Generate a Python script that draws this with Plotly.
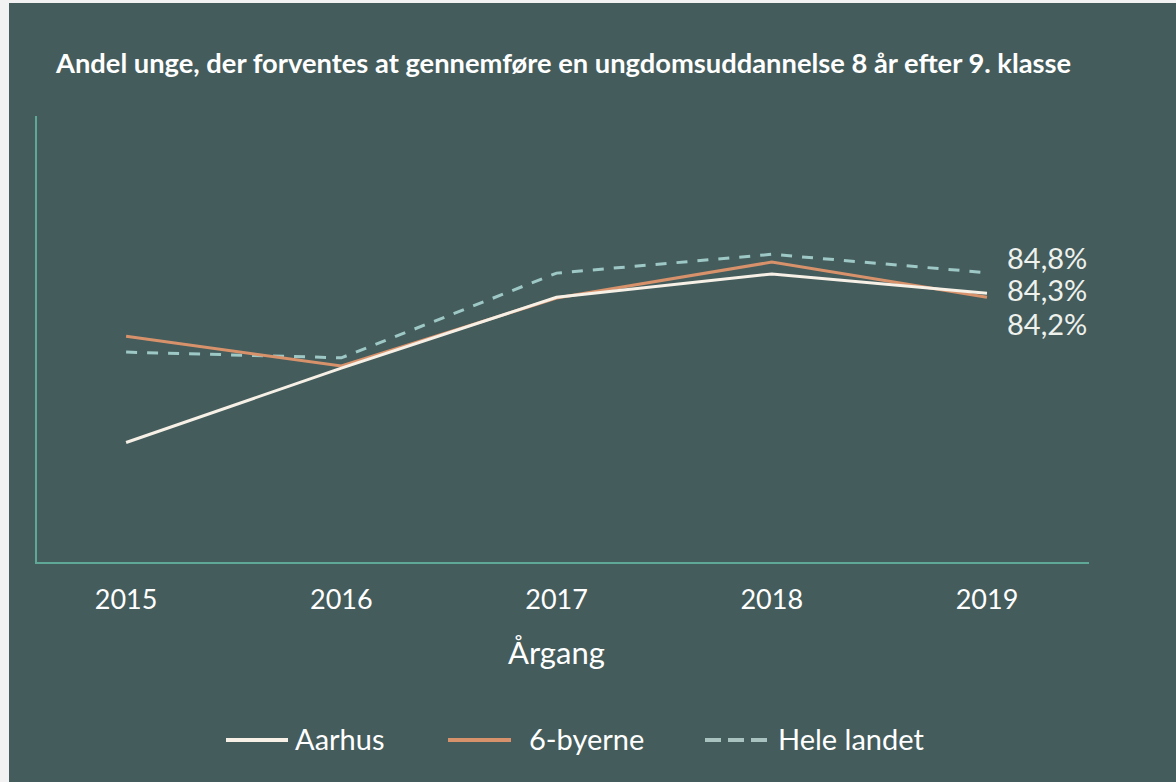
import plotly.graph_objects as go

years = [2015, 2016, 2017, 2018, 2019]
aarhus = [80.65, 82.47, 84.2, 84.77, 84.3]
seks_byerne = [83.25, 82.52, 84.18, 85.06, 84.2]
hele_landet = [82.86, 82.72, 84.79, 85.25, 84.8]
series_names = ["Aarhus", "6-byerne", "Hele landet"]
end_labels = ["84,3%", "84,2%", "84,8%"]
title_text = "Andel unge, der forventes at gennemføre en ungdomsuddannelse 8 år efter 9. klasse"
x_title = "Årgang"

W, H = 1176, 782
L, R, T, B = 37, 87, 116, 220
PW, PH = W - L - R, H - T - B

def px(xp):
    return (xp - L) / PW

def py(yp):
    return (H - B - yp) / PH

BG = "#445c5c"
C_AAR = "#f6f0e6"
C_SEKS = "#d8926b"
C_HELE = "#9ec8c5"
C_HELE_LEG = "#a9c3c1"
AXIS = "#5fa897"
FONT = "Lato"

fig = go.Figure()
fig.add_trace(go.Scatter(x=years, y=hele_landet, mode="lines", name=series_names[2],
                         line=dict(color=C_HELE, width=3, dash="11px,10px")))
fig.add_trace(go.Scatter(x=years, y=seks_byerne, mode="lines", name=series_names[1],
                         line=dict(color=C_SEKS, width=3)))
fig.add_trace(go.Scatter(x=years, y=aarhus, mode="lines", name=series_names[0],
                         line=dict(color=C_AAR, width=3)))

annotations = []
# end labels
for val, lab, ys in [(hele_landet[-1], end_labels[2], 15), (aarhus[-1], end_labels[0], 4),
                     (seks_byerne[-1], end_labels[1], -26)]:
    annotations.append(dict(x=years[-1], y=val, xref="x", yref="y", text=lab, showarrow=False,
                            xanchor="left", yanchor="middle", xshift=18, yshift=ys,
                            font=dict(family=FONT, size=29, color="#eef1ec")))
# axis title
annotations.append(dict(x=2017, y=py(652), xref="x", yref="paper", text=x_title, showarrow=False,
                        xanchor="center", yanchor="middle",
                        font=dict(family=FONT, size=31, color="white")))
# title
annotations.append(dict(x=px(53), y=py(62), xref="paper", yref="paper", text="<b>" + title_text + "</b>",
                        showarrow=False, xanchor="left", yanchor="middle",
                        font=dict(family=FONT, size=27.3, color="white")))

shapes = []
# legend
legend_items = [
    (series_names[0], C_AAR, "solid", 226, 288, 293),
    (series_names[1], C_SEKS, "solid", 448, 511, 527),
    (series_names[2], C_HELE_LEG, "16px,7px", 705, 768, 776),
]
LY = 740
for name, col, dash, x0, x1, tx in legend_items:
    shapes.append(dict(type="line", xref="paper", yref="paper", x0=px(x0), x1=px(x1), y0=py(LY), y1=py(LY),
                       line=dict(color=col, width=4, dash=dash)))
    annotations.append(dict(x=px(tx), y=py(LY - 2), xref="paper", yref="paper", text=name, showarrow=False,
                            xanchor="left", yanchor="middle",
                            font=dict(family=FONT, size=29, color="white")))

# light border strip at left and top
shapes.append(dict(type="rect", xref="paper", yref="paper", x0=px(0), x1=px(9), y0=py(H), y1=py(0),
                   fillcolor="#f2f2f2", line=dict(width=0), layer="above"))
shapes.append(dict(type="rect", xref="paper", yref="paper", x0=px(0), x1=px(W), y0=py(3), y1=py(0),
                   fillcolor="#f2f2f2", line=dict(width=0), layer="above"))

fig.update_layout(
    width=W, height=H,
    margin=dict(l=L, r=R, t=T, b=B),
    paper_bgcolor=BG, plot_bgcolor=BG,
    showlegend=False,
    xaxis=dict(range=[2014.586, 2019.474], tickvals=years, ticktext=[str(y) for y in years],
               showgrid=False, zeroline=False, showline=True, linecolor=AXIS, linewidth=2,
               ticks="", tickfont=dict(family=FONT, size=27, color="white"), ticklabelstandoff=13),
    yaxis=dict(range=[77.73, 88.63], showgrid=False, zeroline=False, showline=True, linecolor=AXIS,
               linewidth=2, showticklabels=False, ticks=""),
    annotations=annotations,
    shapes=shapes,
)

fig.write_html("out.html", config={"displayModeBar": False},
               post_script="document.body.style.margin='0';document.body.style.overflow='hidden';")
